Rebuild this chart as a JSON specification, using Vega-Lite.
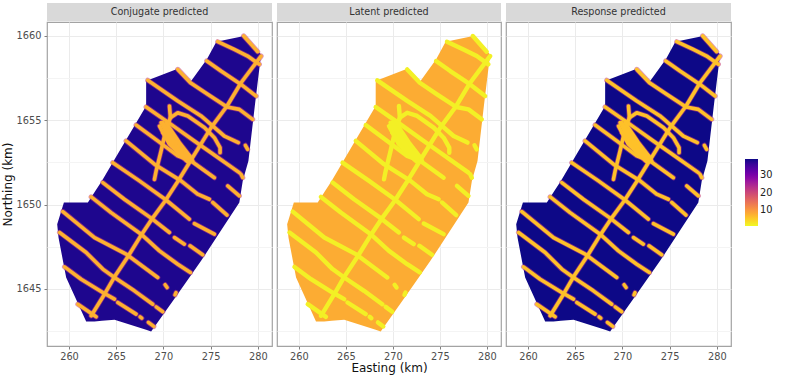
{"$schema":"https://vega.github.io/schema/vega-lite/v6.json","padding":{"left":0,"top":3,"right":4,"bottom":0},"background":"white","config":{"font":"DejaVu Sans","view":{"stroke":"#a3a3a3","strokeWidth":1.2},"axis":{"domain":false,"tickSize":3,"labelColor":"#4d4d4d","labelFontSize":9.8,"titleFontSize":12,"titleFontWeight":"normal","titleColor":"#111111","labelPadding":2}},
"datasets":{"hull":[{"E":258.75,"top":1648.84,"bottom":1648.84},{"E":258.89,"top":1649.09,"bottom":1648.05},{"E":259.46,"top":1650.13,"bottom":1646.38},{"E":259.7,"top":1650.13,"bottom":1645.68},{"E":261.82,"top":1650.13,"bottom":1643.08},{"E":262,"top":1650.13,"bottom":1643.08},{"E":262.7,"top":1650.74,"bottom":1643.08},{"E":263.48,"top":1651.41,"bottom":1643.12},{"E":264.82,"top":1652.68,"bottom":1643.18},{"E":268.17,"top":1655.85,"bottom":1642.58},{"E":268.171,"top":1657.33,"bottom":1642.58},{"E":268.7,"top":1657.45,"bottom":1642.48},{"E":271.52,"top":1658.06,"bottom":1644.71},{"E":272.86,"top":1657.27,"bottom":1645.77},{"E":273.99,"top":1658.15,"bottom":1646.67},{"E":274.59,"top":1658.61,"bottom":1647.18},{"E":275.61,"top":1659.66,"bottom":1648.05},{"E":278.04,"top":1659.94,"bottom":1650.13},{"E":278.4,"top":1659.98,"bottom":1651.41},{"E":278.57,"top":1660,"bottom":1651.74},{"E":279,"top":1659.74,"bottom":1652.59},{"E":279.7,"top":1659.3,"bottom":1655.95},{"E":280.34,"top":1658.91,"bottom":1658.91}],
"tracks":[
{"l":"T1","i":1,"E":262.35,"N":1643.41},{"l":"T1","i":2,"E":263.76,"N":1644.69},{"l":"T1","i":3,"E":264.82,"N":1645.72},{"l":"T1","i":4,"E":266.23,"N":1646.91},{"l":"T1","i":5,"E":267.71,"N":1648.25},{"l":"T1","i":6,"E":268.77,"N":1649.14},{"l":"T1","i":7,"E":270.18,"N":1650.22},{"l":"T1","i":8,"E":271.45,"N":1651.31},{"l":"T1","i":9,"E":272.86,"N":1652.59},{"l":"T1","i":10,"E":275.05,"N":1654.57},{"l":"T1","i":11,"E":276.74,"N":1655.85},{"l":"T1","i":12,"E":278.22,"N":1657.23},{"l":"T1","i":13,"E":280.34,"N":1658.81},
{"l":"T2","i":1,"E":270.64,"N":1655.85},{"l":"T2","i":2,"E":270.74,"N":1655.16},{"l":"T2","i":3,"E":270.28,"N":1654.47},{"l":"T2","i":4,"E":269.75,"N":1653.18},{"l":"T2","i":5,"E":269.23,"N":1652},{"l":"T2","i":6,"E":269.05,"N":1651.5},
{"l":"L0","i":1,"E":278.5,"N":1660},{"l":"L0","i":2,"E":279.98,"N":1659.07},
{"l":"L1","i":1,"E":275.75,"N":1659.66},{"l":"L1","i":2,"E":277.51,"N":1659.2},{"l":"L1","i":3,"E":278.92,"N":1658.81},{"l":"L1","i":4,"E":280.16,"N":1658.32},
{"l":"L2","i":1,"E":274.59,"N":1658.52},{"l":"L2","i":2,"E":276.1,"N":1657.92},{"l":"L2","i":3,"E":278.22,"N":1657.13},{"l":"L2","i":4,"E":279.81,"N":1656.44},
{"l":"L3","i":1,"E":271.52,"N":1658.02},{"l":"L3","i":2,"E":272.86,"N":1657.23},{"l":"L3","i":3,"E":274.69,"N":1656.54},{"l":"L3","i":4,"E":276.74,"N":1655.79},{"l":"L3","i":5,"E":278.04,"N":1655.65},{"l":"L3","i":6,"E":279.45,"N":1655.06},
{"l":"L4","i":1,"E":268.34,"N":1657.37},{"l":"L4","i":2,"E":271.52,"N":1656.15},{"l":"L4","i":3,"E":273.99,"N":1655.26},{"l":"L4","i":4,"E":276.46,"N":1654.07},{"l":"L4","i":5,"E":277.94,"N":1653.68},
{"l":"L5","i":1,"E":268.17,"N":1655.79},{"l":"L5","i":2,"E":270.81,"N":1654.76},{"l":"L5","i":3,"E":273.28,"N":1653.77},{"l":"L5","i":4,"E":275.05,"N":1653.08},{"l":"L5","i":5,"E":278.04,"N":1651.9},
{"l":"H","i":1,"E":270.74,"N":1655.16},{"l":"H","i":2,"E":271.52,"N":1655.45},{"l":"H","i":3,"E":272.58,"N":1655.26},{"l":"H","i":4,"E":274.34,"N":1654.57},{"l":"H","i":5,"E":275.4,"N":1653.97},{"l":"H","i":6,"E":276,"N":1653.38},{"l":"H","i":7,"E":276,"N":1653.08},
{"l":"L6","i":1,"E":267.11,"N":1654.72},{"l":"L6","i":2,"E":269.4,"N":1653.78},{"l":"L6","i":3,"E":271.52,"N":1652.89},{"l":"L6","i":4,"E":272.93,"N":1652.59},{"l":"L6","i":5,"E":275.4,"N":1651.6},
{"l":"L7","i":1,"E":266.05,"N":1653.78},{"l":"L7","i":2,"E":269.05,"N":1652.4},{"l":"L7","i":3,"E":271.87,"N":1651.41},{"l":"L7","i":4,"E":273.63,"N":1650.62},{"l":"L7","i":5,"E":274.87,"N":1650.32},
{"l":"L7b","i":1,"E":275.22,"N":1650.13},{"l":"L7b","i":2,"E":276.74,"N":1649.38},
{"l":"L8","i":1,"E":264.64,"N":1652.49},{"l":"L8","i":2,"E":267.46,"N":1651.41},{"l":"L8","i":3,"E":270.18,"N":1650.32},{"l":"L8","i":4,"E":272.75,"N":1649.14},
{"l":"L8b","i":1,"E":273.28,"N":1648.88},{"l":"L8b","i":2,"E":275.4,"N":1648.25},
{"l":"L9","i":1,"E":263.58,"N":1651.31},{"l":"L9","i":2,"E":265.87,"N":1650.32},{"l":"L9","i":3,"E":268.7,"N":1649.2},{"l":"L9","i":4,"E":270.64,"N":1648.35},
{"l":"L9b","i":1,"E":271.17,"N":1648.05},{"l":"L9b","i":2,"E":272.22,"N":1647.66},
{"l":"L9c","i":1,"E":272.82,"N":1647.56},{"l":"L9c","i":2,"E":274.16,"N":1647.03},
{"l":"L10","i":1,"E":262.35,"N":1650.46},{"l":"L10","i":2,"E":264.46,"N":1649.53},{"l":"L10","i":3,"E":267.64,"N":1648.25},{"l":"L10","i":4,"E":269.58,"N":1647.26},{"l":"L10","i":5,"E":271.52,"N":1646.47},{"l":"L10","i":6,"E":272.86,"N":1645.98},
{"l":"L11","i":1,"E":259.35,"N":1649.59},{"l":"L11","i":2,"E":262.7,"N":1648.05},{"l":"L11","i":3,"E":266.05,"N":1647.07},{"l":"L11","i":4,"E":269.4,"N":1645.68},
{"l":"L12","i":1,"E":259,"N":1648.35},{"l":"L12","i":2,"E":261.82,"N":1647.16},{"l":"L12","i":3,"E":263.58,"N":1646.18},{"l":"L12","i":4,"E":264.82,"N":1645.68},{"l":"L12","i":5,"E":266.93,"N":1644.89},{"l":"L12","i":6,"E":268.87,"N":1644.1},
{"l":"L12b","i":1,"E":269.23,"N":1643.94},{"l":"L12b","i":2,"E":269.93,"N":1643.65},
{"l":"L13","i":1,"E":259.53,"N":1646.31},{"l":"L13","i":2,"E":261.29,"N":1645.58},{"l":"L13","i":3,"E":263.58,"N":1644.79},{"l":"L13","i":4,"E":264.82,"N":1644.4},
{"l":"L13b","i":1,"E":265.17,"N":1644.2},{"l":"L13b","i":2,"E":267.11,"N":1643.51},
{"l":"L13c","i":1,"E":267.53,"N":1643.35},{"l":"L13c","i":2,"E":267.71,"N":1643.27},
{"l":"L13d","i":1,"E":268.41,"N":1643.02},{"l":"L13d","i":2,"E":268.98,"N":1642.78},
{"l":"L14","i":1,"E":260.94,"N":1644.1},{"l":"L14","i":2,"E":262.88,"N":1643.35},
{"l":"B1","i":1,"E":270.18,"N":1645.25},{"l":"B1","i":2,"E":270.39,"N":1645.09},
{"l":"B2","i":1,"E":276.81,"N":1651.11},{"l":"B2","i":2,"E":278.04,"N":1650.52},
{"l":"B3","i":1,"E":278.68,"N":1653.52},{"l":"B3","i":2,"E":278.92,"N":1653.28},
{"l":"B4","i":1,"E":278.22,"N":1651.8},{"l":"B4","i":2,"E":278.4,"N":1651.6},
{"l":"B5","i":1,"E":271.34,"N":1644.79},{"l":"B5","i":2,"E":271.23,"N":1644.65},
{"l":"C1","i":1,"E":269.75,"N":1654.86},{"l":"C1","i":2,"E":270.81,"N":1653.78},{"l":"C1","i":3,"E":272.75,"N":1652.69},
{"l":"C2","i":1,"E":270.28,"N":1654.86},{"l":"C2","i":2,"E":271.69,"N":1653.68},{"l":"C2","i":3,"E":272.93,"N":1652.79},
{"l":"C3","i":1,"E":269.93,"N":1654.27},{"l":"C3","i":2,"E":271.34,"N":1653.28},{"l":"C3","i":3,"E":272.57,"N":1652.55},
{"l":"C4","i":1,"E":269.58,"N":1654.66},{"l":"C4","i":2,"E":270.64,"N":1653.58},{"l":"C4","i":3,"E":272.4,"N":1652.63},
{"l":"C5","i":1,"E":270.46,"N":1654.47},{"l":"C5","i":2,"E":272.05,"N":1653.28},{"l":"C5","i":3,"E":273.1,"N":1652.59},
{"l":"C6","i":1,"E":269.93,"N":1654.86},{"l":"C6","i":2,"E":271.52,"N":1653.38},{"l":"C6","i":3,"E":272.75,"N":1652.59}]},
"columns":3,"spacing":{"row":0,"column":3},
"resolve":{"scale":{"color":"independent"},"legend":{"color":"independent"}},
"concat":[
{"width":225,"height":18,"data":{"values":[{"panel":"Conjugate predicted"}]},"layer":[{"mark":{"type":"rect","fill":"#d9d9d9"}},{"mark":{"type":"text","fontSize":9.6,"color":"#333333"},"encoding":{"text":{"field":"panel"}}}]},
{"width":224,"height":18,"data":{"values":[{"panel":"Latent predicted"}]},"layer":[{"mark":{"type":"rect","fill":"#d9d9d9"}},{"mark":{"type":"text","fontSize":9.6,"color":"#333333"},"encoding":{"text":{"field":"panel"}}}]},
{"width":225,"height":18,"data":{"values":[{"panel":"Response predicted"}]},"layer":[{"mark":{"type":"rect","fill":"#d9d9d9"}},{"mark":{"type":"text","fontSize":9.6,"color":"#333333"},"encoding":{"text":{"field":"panel"}}}]},
{"width":225,"height":324,"layer":[
{"data":{"name":"hull"},"mark":{"type":"area","line":false,"interpolate":"linear"},"encoding":{
"x":{"field":"E","type":"quantitative","scale":{"domain":[257.67,281.5],"nice":false,"zero":false},"axis":{"title":null,"format":"d","values":[257.5,260,262.5,265,267.5,270,272.5,275,277.5,280],"labelExpr":"datum.value%5==0?datum.label:''","labelOverlap":false,"gridColor":{"expr":"datum.value%5==0?'#ebebeb':'#f4f4f4'"},"tickColor":{"expr":"datum.value%5==0?'#7f7f7f':'transparent'"}}},
"y":{"field":"top","type":"quantitative","scale":{"domain":[1641.62,1660.83],"nice":false,"zero":false},"axis":{"title":"Northing (km)","format":"d","titlePadding":2,"labelPadding":3,"values":[1642.5,1645,1647.5,1650,1652.5,1655,1657.5,1660],"labelExpr":"datum.value%5==0?datum.label:''","labelOverlap":false,"gridColor":{"expr":"datum.value%5==0?'#ebebeb':'#f4f4f4'"},"tickColor":{"expr":"datum.value%5==0?'#7f7f7f':'transparent'"}}},
"y2":{"field":"bottom"},
"color":{"datum":38,"type":"quantitative","scale":{"scheme":"plasma","reverse":true,"domain":[1,39]},"legend":null}}},
{"data":{"name":"tracks"},"mark":{"type":"line","strokeWidth":5.2,"opacity":0.55,"strokeCap":"round","strokeJoin":"round"},"encoding":{"x":{"field":"E","type":"quantitative"},"y":{"field":"N","type":"quantitative"},"detail":{"field":"l"},"order":{"field":"i"},"color":{"datum":21,"type":"quantitative","scale":{"scheme":"plasma","reverse":true,"domain":[1,39]},"legend":null}}},
{"data":{"name":"tracks"},"mark":{"type":"line","strokeWidth":3.6,"strokeCap":"round","strokeJoin":"round"},"encoding":{"x":{"field":"E","type":"quantitative"},"y":{"field":"N","type":"quantitative"},"detail":{"field":"l"},"order":{"field":"i"},"color":{"datum":7.5,"type":"quantitative","scale":{"scheme":"plasma","reverse":true,"domain":[1,39]},"legend":null}}}
]},
{"width":224,"height":324,"layer":[
{"data":{"name":"hull"},"mark":{"type":"area","line":false,"interpolate":"linear"},"encoding":{
"x":{"field":"E","type":"quantitative","scale":{"domain":[257.67,281.5],"nice":false,"zero":false},"axis":{"title":"Easting (km)","format":"d","titlePadding":2,"values":[257.5,260,262.5,265,267.5,270,272.5,275,277.5,280],"labelExpr":"datum.value%5==0?datum.label:''","labelOverlap":false,"gridColor":{"expr":"datum.value%5==0?'#ebebeb':'#f4f4f4'"},"tickColor":{"expr":"datum.value%5==0?'#7f7f7f':'transparent'"}}},
"y":{"field":"top","type":"quantitative","scale":{"domain":[1641.62,1660.83],"nice":false,"zero":false},"axis":{"title":null,"labels":false,"ticks":false,"values":[1642.5,1645,1647.5,1650,1652.5,1655,1657.5,1660],"gridColor":{"expr":"datum.value%5==0?'#ebebeb':'#f4f4f4'"}}},
"y2":{"field":"bottom"},
"color":{"datum":8,"type":"quantitative","scale":{"scheme":"plasma","reverse":true,"domain":[1,39]},"legend":null}}},
{"data":{"name":"tracks"},"mark":{"type":"line","strokeWidth":4.4,"strokeCap":"round","strokeJoin":"round"},"encoding":{"x":{"field":"E","type":"quantitative"},"y":{"field":"N","type":"quantitative"},"detail":{"field":"l"},"order":{"field":"i"},"color":{"datum":1.8,"type":"quantitative","scale":{"scheme":"plasma","reverse":true,"domain":[1,39]},"legend":null}}}
]},
{"width":225,"height":324,"layer":[
{"data":{"name":"hull"},"mark":{"type":"area","line":false,"interpolate":"linear"},"encoding":{
"x":{"field":"E","type":"quantitative","scale":{"domain":[257.67,281.5],"nice":false,"zero":false},"axis":{"title":null,"format":"d","values":[257.5,260,262.5,265,267.5,270,272.5,275,277.5,280],"labelExpr":"datum.value%5==0?datum.label:''","labelOverlap":false,"gridColor":{"expr":"datum.value%5==0?'#ebebeb':'#f4f4f4'"},"tickColor":{"expr":"datum.value%5==0?'#7f7f7f':'transparent'"}}},
"y":{"field":"top","type":"quantitative","scale":{"domain":[1641.62,1660.83],"nice":false,"zero":false},"axis":{"title":null,"labels":false,"ticks":false,"values":[1642.5,1645,1647.5,1650,1652.5,1655,1657.5,1660],"gridColor":{"expr":"datum.value%5==0?'#ebebeb':'#f4f4f4'"}}},
"y2":{"field":"bottom"},
"color":{"datum":39,"type":"quantitative","scale":{"scheme":"plasma","reverse":true,"domain":[1,39]},"legend":{"title":null,"orient":"none","legendX":239,"legendY":137,"gradientLength":67,"gradientThickness":13,"values":[10,20,30],"labelFontSize":9.8,"labelColor":"#222222"}}}},
{"data":{"name":"tracks"},"mark":{"type":"line","strokeWidth":5.2,"opacity":0.55,"strokeCap":"round","strokeJoin":"round"},"encoding":{"x":{"field":"E","type":"quantitative"},"y":{"field":"N","type":"quantitative"},"detail":{"field":"l"},"order":{"field":"i"},"stroke":{"datum":21,"type":"quantitative","scale":{"scheme":"plasma","reverse":true,"domain":[1,39]},"legend":null}}},
{"data":{"name":"tracks"},"mark":{"type":"line","strokeWidth":3.6,"strokeCap":"round","strokeJoin":"round"},"encoding":{"x":{"field":"E","type":"quantitative"},"y":{"field":"N","type":"quantitative"},"detail":{"field":"l"},"order":{"field":"i"},"stroke":{"datum":6,"type":"quantitative","scale":{"scheme":"plasma","reverse":true,"domain":[1,39]},"legend":null}}}
]}
]}
